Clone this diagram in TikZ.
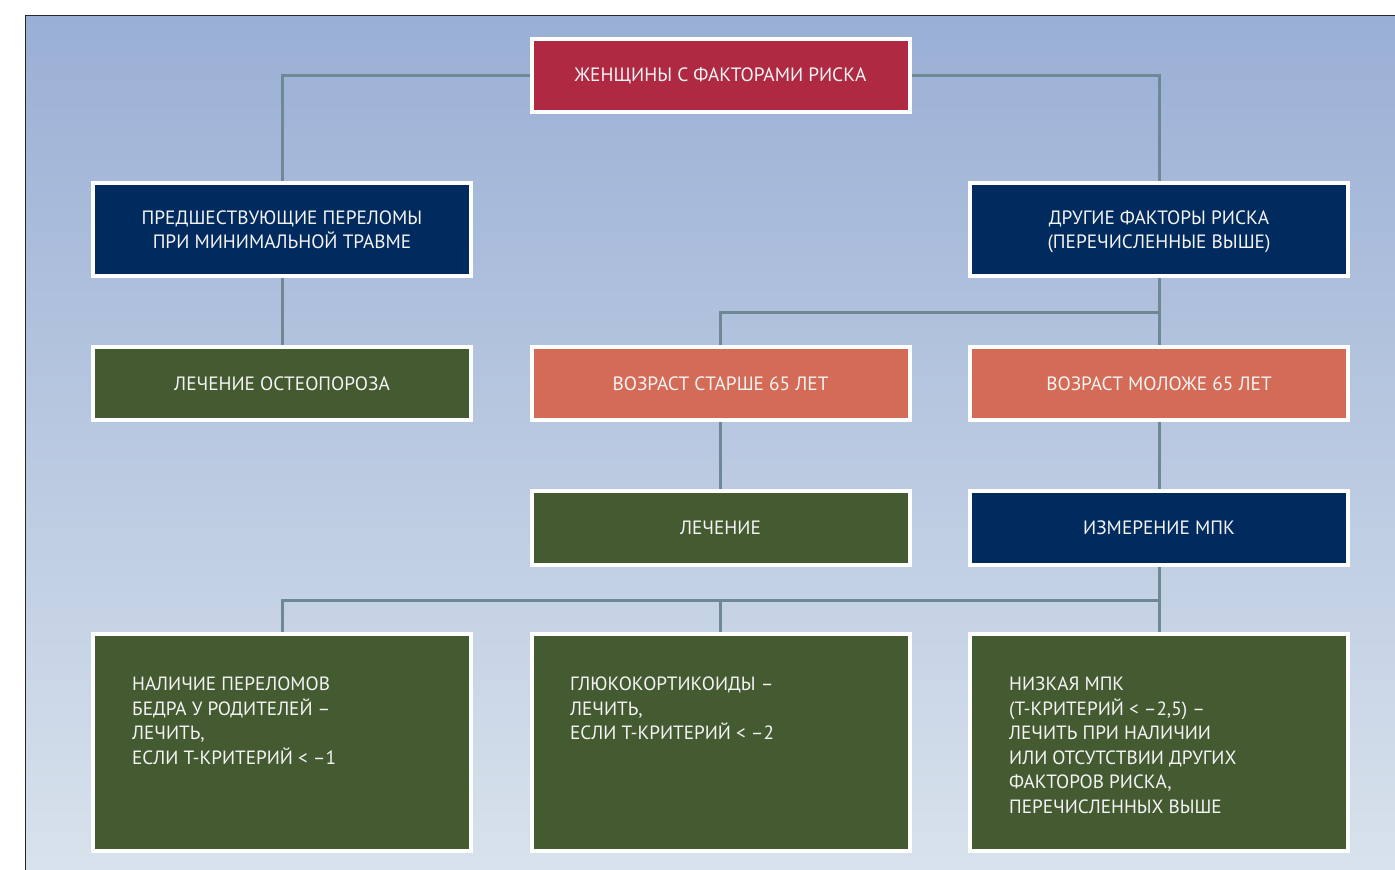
\documentclass[tikz,border=0pt]{standalone}
\usepackage{fontspec}
\setmainfont{PT Sans}
\definecolor{bgtop}{HTML}{9AAFD5}
\definecolor{bgbot}{HTML}{D8E2EC}
\definecolor{cred}{HTML}{AF2943}
\definecolor{cnavy}{HTML}{012A5E}
\definecolor{cgreen}{HTML}{445A31}
\definecolor{csalmon}{HTML}{D46B56}
\definecolor{cline}{HTML}{6F8896}
\definecolor{ctext}{HTML}{F4F4F4}
\tikzset{
  box/.style={draw=white, line width=4pt, minimum width=378pt, inner sep=0pt,
    text=ctext, align=center, font=\fontsize{19.3}{24}\selectfont},
  redbox/.style={box, fill=cred},
  navybox/.style={box, fill=cnavy},
  greenbox/.style={box, fill=cgreen},
  salmonbox/.style={box, fill=csalmon},
  conn/.style={draw=cline, line width=3pt},
  bodytext/.style={anchor=base west, text=ctext, align=left, inner sep=0pt,
    font=\fontsize{19.2}{24.5}\selectfont}
}
\begin{document}
\begin{tikzpicture}[x=1pt, y=-1pt]
\useasboundingbox (0,0) rectangle (1395,870);
\fill[white] (0,0) rectangle (1395,870);
\shade[top color=bgtop, bottom color=bgbot] (25,15) rectangle (1395,870);
\draw[black!85, line width=1.3pt] (25.5,870) -- (25.5,15.5) -- (1395,15.5);

% nodes
\node[redbox, minimum height=73pt] (top) at (720.5,75.5) {\raisebox{-1pt}{ЖЕНЩИНЫ С ФАКТОРАМИ РИСКА}};
\node[navybox, minimum height=93pt, text depth=-3pt] (l2) at (282,229.5) {ПРЕДШЕСТВУЮЩИЕ ПЕРЕЛОМЫ\\ПРИ МИНИМАЛЬНОЙ ТРАВМЕ};
\node[navybox, minimum height=93pt, text depth=-3pt] (r2) at (1159,229.5) {ДРУГИЕ ФАКТОРЫ РИСКА\\(ПЕРЕЧИСЛЕННЫЕ ВЫШЕ)};
\node[greenbox, minimum height=73pt] (l3) at (282,383.5) {ЛЕЧЕНИЕ ОСТЕОПОРОЗА};
\node[salmonbox, minimum height=73pt] (m3) at (720.5,383.5) {ВОЗРАСТ СТАРШЕ 65 ЛЕТ};
\node[salmonbox, minimum height=73pt] (r3) at (1159,383.5) {ВОЗРАСТ МОЛОЖЕ 65 ЛЕТ};
\node[greenbox, minimum height=74pt] (m4) at (720.5,528) {ЛЕЧЕНИЕ};
\node[navybox, minimum height=74pt] (r4) at (1159,528) {ИЗМЕРЕНИЕ МПК};
\node[greenbox, minimum height=217pt] (l5) at (282,742.5) {};
\node[greenbox, minimum height=217pt] (m5) at (720.5,742.5) {};
\node[greenbox, minimum height=217pt] (r5) at (1159,742.5) {};

% base west of a multi-line node is the baseline of its last line
\node[bodytext] (t1) at (132,764) {НАЛИЧИЕ ПЕРЕЛОМОВ\\БЕДРА У РОДИТЕЛЕЙ –\\ЛЕЧИТЬ,\\ЕСЛИ Т-КРИТЕРИЙ < –1};
\node[bodytext] (t2) at (570,739.5) {ГЛЮКОКОРТИКОИДЫ –\\ЛЕЧИТЬ,\\ЕСЛИ Т-КРИТЕРИЙ < –2};
\node[bodytext] (t3) at (1009,813) {НИЗКАЯ МПК\\(Т-КРИТЕРИЙ < –2,5) –\\ЛЕЧИТЬ ПРИ НАЛИЧИИ\\ИЛИ ОТСУТСТВИИ ДРУГИХ\\ФАКТОРОВ РИСКА,\\ПЕРЕЧИСЛЕННЫХ ВЫШЕ};

% connectors
\coordinate (j1) at (1159,312);
\coordinate (j2) at (1159,600);
\draw[conn] (top.west) -| (l2.north);
\draw[conn] (top.east) -| (r2.north);
\draw[conn] (l2.south) -- (l3.north);
\draw[conn] (r2.south) -- (r3.north);
\draw[conn] (m3.north) |- (j1);
\draw[conn] (m3.south) -- (m4.north);
\draw[conn] (r3.south) -- (r4.north);
\draw[conn] (r4.south) -- (r5.north);
\draw[conn] (l5.north) |- (j2);
\draw[conn] (m5.north) -- (m5.north |- j2);
\end{tikzpicture}
\end{document}
